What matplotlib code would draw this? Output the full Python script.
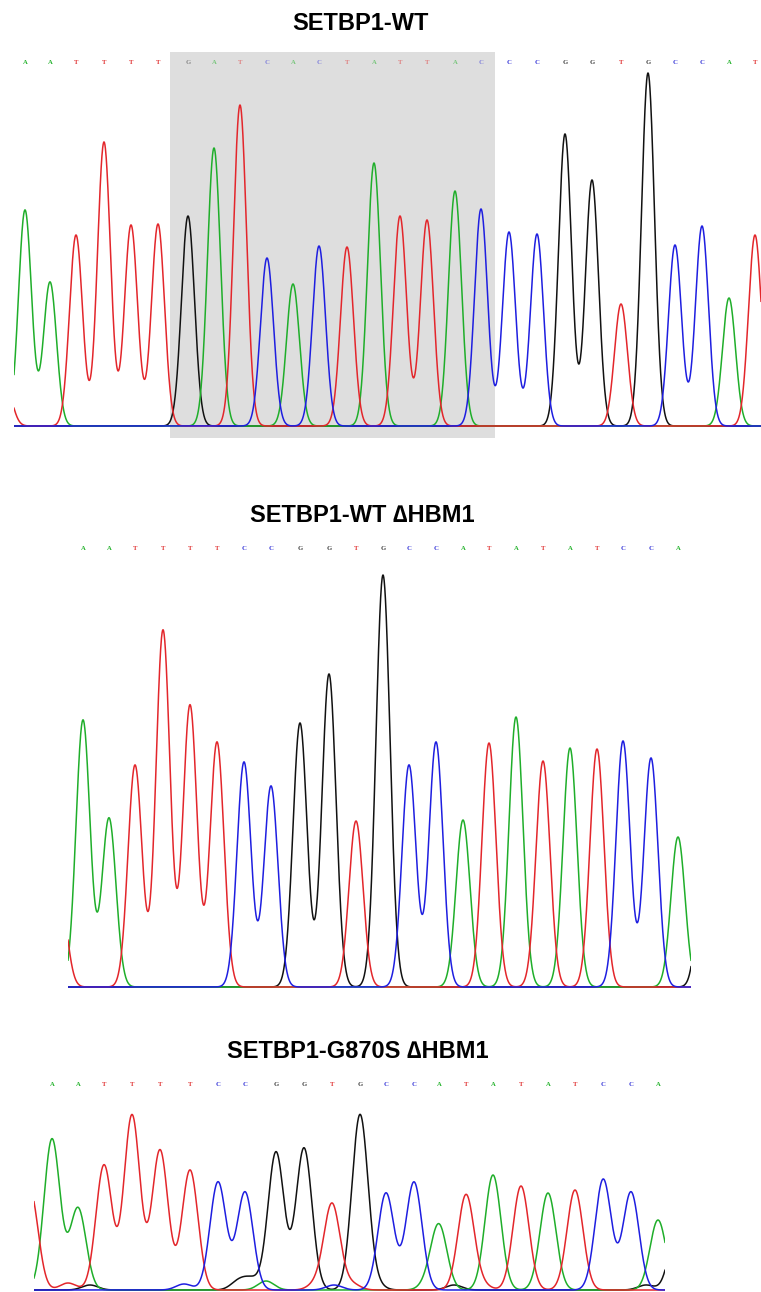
import numpy as np
import matplotlib.pyplot as plt

plt.rcParams['font.family'] = ['Liberation Sans', 'DejaVu Sans']

# base calls, peak positions (scan units) and peak heights (signal) for each trace
wt_bases = list("TAATTTTGATCACTATTACCCGGTGCCAT")
wt_pos = [-8, 11, 36, 62, 90, 117, 144, 174, 200, 226, 253, 279, 305, 333, 360,
          386, 413, 441, 467, 495, 523, 551, 578, 607, 634, 661, 688, 715, 741]
wt_height = [38, 216, 144, 191, 284, 201, 202, 210, 278, 321, 168, 142, 180, 179, 263,
             210, 206, 235, 217, 194, 192, 292, 246, 122, 353, 181, 200, 128, 191]
wt_shade = (156, 481)

del_bases = list("TAATTTTCCGGTGCCATATATCCAG")
del_pos = [-8, 15, 41, 67, 95, 122, 149, 176, 203, 232, 261, 288, 315, 341, 368,
           395, 421, 448, 475, 502, 529, 555, 583, 610, 637]
del_height = [90, 267, 169, 222, 357, 282, 245, 225, 201, 264, 313, 166, 412, 222, 245,
              167, 244, 270, 226, 239, 238, 246, 229, 150, 150]

mut_bases = list("TAATTTTCCGGTGCCATATATCCAG")
mut_pos = [-4, 18, 44, 70, 98, 126, 156, 184, 211, 242, 270, 298, 326, 352, 380,
           405, 432, 459, 487, 514, 541, 569, 597, 624, 643]
mut_height = [100, 151, 82, 125, 175, 140, 120, 108, 98, 138, 142, 86, 175, 97, 108,
              64, 95, 115, 104, 97, 100, 107, 98, 70, 60]
# small background peaks in the mutant trace (not base-called)
mut_noise_bases = list("TGCGGATCTGAGTCG")
mut_noise_pos = [34, 56, 150, 205, 218, 232, 282, 300, 318, 342, 394, 420, 448, 575, 612]
mut_noise_height = [7, 5, 6, 9, 10, 9, 6, 5, 6, 5, 6, 5, 5, 5, 5]

colors = {'A': '#1fae2a', 'T': '#e3262b', 'C': '#1e1ee0', 'G': '#111111'}
label_colors = {'A': '#22b22a', 'T': '#e03030', 'C': '#3a3ad8', 'G': '#444444'}

W, H = 761, 1292
fig = plt.figure(figsize=(W / 100, H / 100), dpi=100)


def px_axes(left, top, right, bottom):
    return fig.add_axes([left / W, 1 - bottom / H, (right - left) / W, (bottom - top) / H])


def draw_trace(ax, bases, pos, height, sigma, xmax, ymin, ymax, label_y,
               shade=None, extra=None):
    ax.set_xlim(0, xmax)
    ax.set_ylim(ymin, ymax)
    ax.axis('off')
    if shade:
        ax.axvspan(shade[0], shade[1], color='#dedede', lw=0, zorder=0)
    x = np.linspace(0, xmax, 3000)
    all_b = list(bases)
    all_p = list(pos)
    all_h = list(height)
    if extra:
        all_b += extra[0]
        all_p += extra[1]
        all_h += extra[2]
    all_b = np.array(all_b)
    all_p = np.array(all_p, dtype=float)
    all_h = np.array(all_h, dtype=float)
    for b in ['G', 'A', 'T', 'C']:
        m = all_b == b
        y = np.zeros_like(x)
        for p, h in zip(all_p[m], all_h[m]):
            y += h * np.exp(-(x - p) ** 2 / (2 * sigma ** 2))
        ax.plot(x, y, color=colors[b], lw=1.1, zorder=2)
    for b, p in zip(bases, pos):
        if p < 3 or p > xmax - 3:
            continue
        faded = shade is not None and shade[0] < p < shade[1]
        ax.text(p, label_y, b, color=label_colors[b], fontsize=4.8,
                family='Liberation Serif', weight='bold', ha='center', va='center',
                alpha=0.55 if faded else 1.0, zorder=3)


ax1 = px_axes(14, 52, 761, 438)
draw_trace(ax1, wt_bases, wt_pos, wt_height, 6.5, 747, -12, 374, 363, wt_shade)

ax2 = px_axes(68, 538, 691, 990)
draw_trace(ax2, del_bases, del_pos, del_height, 7, 623, -3, 449, 438)

ax3 = px_axes(34, 1075, 665, 1292)
draw_trace(ax3, mut_bases, mut_pos, mut_height, 8, 631, -2, 215, 205,
           extra=(mut_noise_bases, mut_noise_pos, mut_noise_height))

fig.text(360 / W, 1 - 23 / H, "SETBP1-WT", ha='center', va='center',
         fontsize=17, weight='bold')
fig.text(362 / W, 1 - 516 / H, "SETBP1-WT \u2206HBM1", ha='center', va='center',
         fontsize=17, weight='bold')
fig.text(358 / W, 1 - 1052 / H, "SETBP1-G870S \u2206HBM1", ha='center', va='center',
         fontsize=17, weight='bold')

fig.savefig('out.png', dpi=100)
